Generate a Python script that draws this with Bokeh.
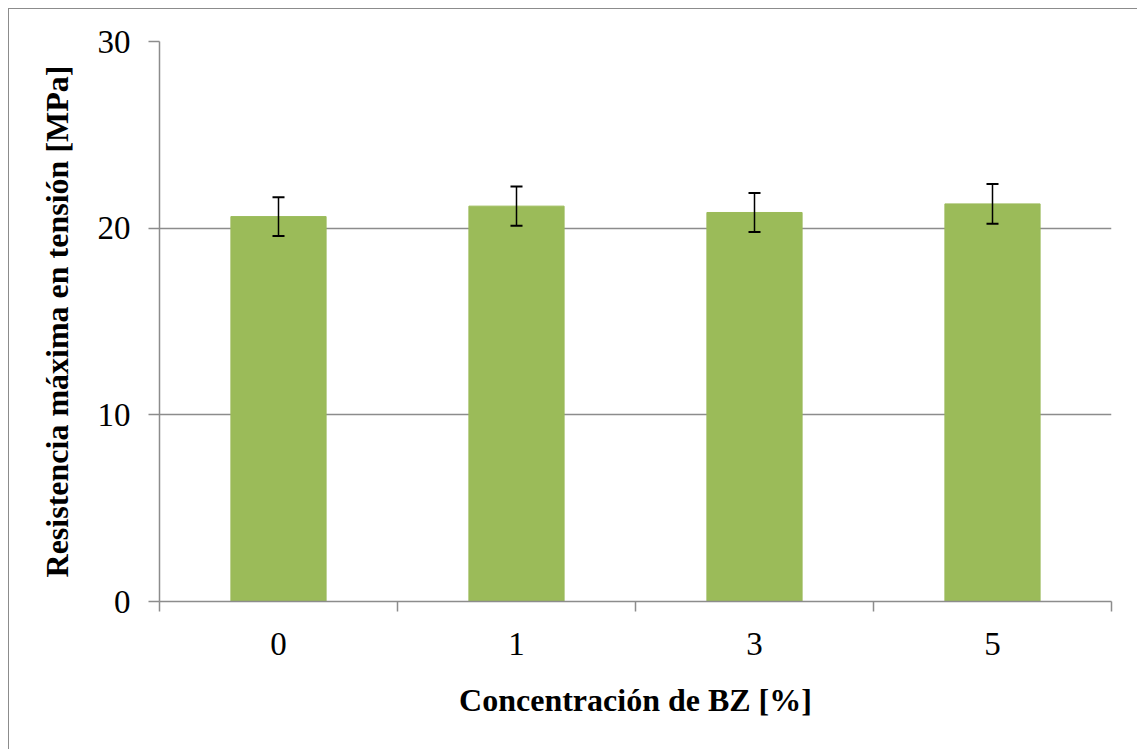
from bokeh.plotting import figure
from bokeh.models import ColumnDataSource, Range1d, FixedTicker, Whisker, TeeHead
from bokeh.embed import file_html
from bokeh.resources import INLINE

categories = ["0", "1", "3", "5"]
values = [20.62, 21.18, 20.84, 21.30]
errors = [1.04, 1.05, 1.05, 1.06]
y_ticks = [0, 10, 20, 30]

xs = [i + 0.5 for i in range(len(categories))]
src = ColumnDataSource(dict(
    x=xs, top=values,
    upper=[v + e for v, e in zip(values, errors)],
    lower=[v - e for v, e in zip(values, errors)],
))

p = figure(width=1129, height=741, output_backend="svg", toolbar_location=None,
           x_range=Range1d(0, len(categories)), y_range=Range1d(0, 30),
           min_border_left=150, min_border_top=32, min_border_right=27, min_border_bottom=149)
p.styles = {"margin-left": "8px", "margin-top": "8px",
            "border-left": "1.5px solid #8c8c8c", "border-top": "1.5px solid #8c8c8c"}
p.outline_line_color = None
p.background_fill_color = "white"

p.vbar(x="x", top="top", width=0.4, bottom=0, source=src, color="#9BBB59")
p.add_layout(Whisker(source=src, base="x", upper="upper", lower="lower", level="overlay",
                     line_color="black", line_width=1.5,
                     upper_head=TeeHead(size=12, line_color="black", line_width=2),
                     lower_head=TeeHead(size=12, line_color="black", line_width=2)))

font = "Liberation Serif"
# y axis
p.yaxis.ticker = FixedTicker(ticks=y_ticks, minor_ticks=[])
p.yaxis.axis_line_color = "#8c8c8c"
p.yaxis.axis_line_width = 1.5
p.yaxis.major_tick_line_color = "#8c8c8c"
p.yaxis.major_tick_line_width = 1.5
p.yaxis.major_tick_out = 11
p.yaxis.major_tick_in = 0
p.yaxis.major_label_text_font = font
p.yaxis.major_label_text_font_size = "33px"
p.yaxis.major_label_text_color = "black"
p.yaxis.major_label_standoff = 18
p.yaxis.axis_label = "Resistencia máxima en tensión [MPa]"
p.yaxis.axis_label_text_font = font
p.yaxis.axis_label_text_font_size = "32px"
p.yaxis.axis_label_text_font_style = "bold"
p.yaxis.axis_label_text_color = "black"
p.yaxis.axis_label_standoff = 20

# x axis
p.xaxis.ticker = FixedTicker(ticks=xs, minor_ticks=list(range(len(categories) + 1)))
p.xaxis.major_label_overrides = {x: c for x, c in zip(xs, categories)}
p.xaxis.axis_line_color = "#8c8c8c"
p.xaxis.axis_line_width = 1.5
p.xaxis.major_tick_out = 0
p.xaxis.major_tick_in = 0
p.xaxis.major_tick_line_color = None
p.xaxis.minor_tick_line_color = "#8c8c8c"
p.xaxis.minor_tick_line_width = 1.5
p.xaxis.minor_tick_out = 10
p.xaxis.minor_tick_in = 0
p.xaxis.major_label_text_font = font
p.xaxis.major_label_text_font_size = "33px"
p.xaxis.major_label_text_color = "black"
p.xaxis.major_label_standoff = 21
p.xaxis.axis_label = "Concentración de BZ [%]"
p.xaxis.axis_label_text_font = font
p.xaxis.axis_label_text_font_size = "32px"
p.xaxis.axis_label_text_font_style = "bold"
p.xaxis.axis_label_text_color = "black"
p.xaxis.axis_label_standoff = 24

p.xgrid.grid_line_color = None
p.ygrid.ticker = FixedTicker(ticks=y_ticks)
p.ygrid.grid_line_color = "#8c8c8c"
p.ygrid.grid_line_width = 1.5

open("out.html", "w").write(file_html(p, INLINE))
